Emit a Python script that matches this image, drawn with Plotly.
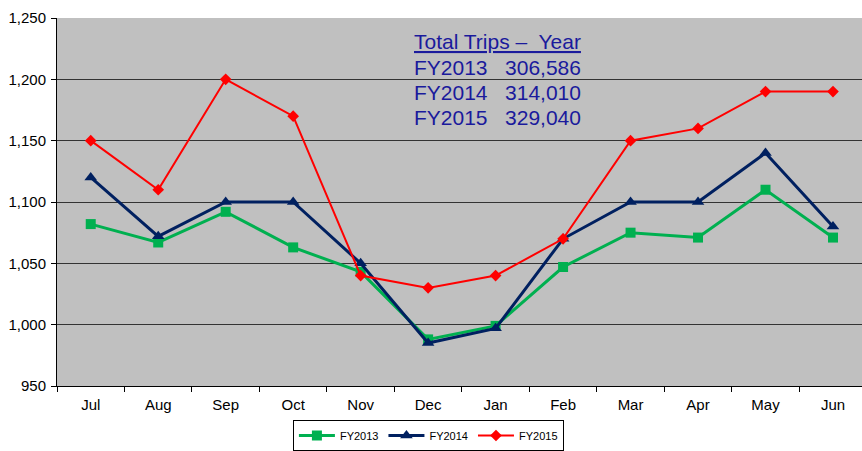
import plotly.graph_objects as go

months = ["Jul", "Aug", "Sep", "Oct", "Nov", "Dec", "Jan", "Feb", "Mar", "Apr", "May", "Jun"]
fy2013 = [1082, 1067, 1092, 1063, 1043, 988, 999, 1047, 1075, 1071, 1110, 1071]
fy2014 = [1120, 1072, 1100, 1100, 1050, 985, 997, 1070, 1100, 1100, 1140, 1080]
fy2015 = [1150, 1110, 1200, 1170, 1040, 1030, 1040, 1070, 1150, 1160, 1190, 1190]
y_ticks = [950, 1000, 1050, 1100, 1150, 1200, 1250]
y_labels = ["950", "1,000", "1,050", "1,100", "1,150", "1,200", "1,250"]
totals_title = "Total Trips –  Year"
totals_lines = ["FY2013   306,586", "FY2014   314,010", "FY2015   329,040"]

fig = go.Figure()
fig.add_trace(go.Scatter(x=months, y=fy2013, name="FY2013", mode="lines+markers",
                         line=dict(color="#00b050", width=3),
                         marker=dict(symbol="square", size=10, color="#00b050")))
fig.add_trace(go.Scatter(x=months, y=fy2014, name="FY2014", mode="lines+markers",
                         line=dict(color="#002060", width=3),
                         marker=dict(symbol="triangle-up", size=11, color="#002060")))
fig.add_trace(go.Scatter(x=months, y=fy2015, name="FY2015", mode="lines+markers",
                         line=dict(color="#ff0000", width=2),
                         marker=dict(symbol="diamond", size=9, color="#ff0000")))

txt_color = "#1a1a9c"
fig.add_annotation(x=0.441, y=0.935, xref="paper", yref="paper", xanchor="left", yanchor="middle",
                   text="<u>" + totals_title + "</u>", showarrow=False,
                   font=dict(size=21, color=txt_color, family="Liberation Sans, Arial"))
for i, t in enumerate(totals_lines):
    fig.add_annotation(x=0.441, y=0.935 - 0.0688 * (i + 1), xref="paper", yref="paper",
                       xanchor="left", yanchor="middle", text=t.replace(" ", "&nbsp;"),
                       showarrow=False,
                       font=dict(size=21, color=txt_color, family="Liberation Sans, Arial"))

fig.update_layout(
    width=862, height=451,
    margin=dict(l=57, r=0, t=18, b=65),
    paper_bgcolor="white",
    plot_bgcolor="#c0c0c0",
    font=dict(family="Liberation Sans, Arial", size=15, color="black"),
    showlegend=True,
    legend=dict(orientation="h", x=0.497, xanchor="center", xref="container",
                y=-0.025, yanchor="bottom", yref="container",
                bordercolor="black", borderwidth=1, bgcolor="white",
                font=dict(size=11), itemwidth=36, tracegroupgap=0),
    xaxis=dict(type="category", range=[-0.5, 11.43], showgrid=False, automargin=False,
               ticks="outside", tickson="boundaries", ticklen=5, tickcolor="black",
               ticklabelstandoff=5,
               showline=True, linecolor="black", linewidth=1, zeroline=False,
               tickfont=dict(size=15)),
    yaxis=dict(range=[950, 1250], tickvals=y_ticks, ticktext=y_labels, automargin=False,
               showgrid=True, gridcolor="#333333", gridwidth=1,
               ticks="outside", ticklen=5, tickcolor="black",
               ticklabelstandoff=2,
               showline=True, linecolor="black", linewidth=1, zeroline=False,
               tickfont=dict(size=15)),
)

fig.write_html("out.html", config={"displayModeBar": False},
               post_script="document.body.style.margin='0';document.body.style.overflow='hidden';")
